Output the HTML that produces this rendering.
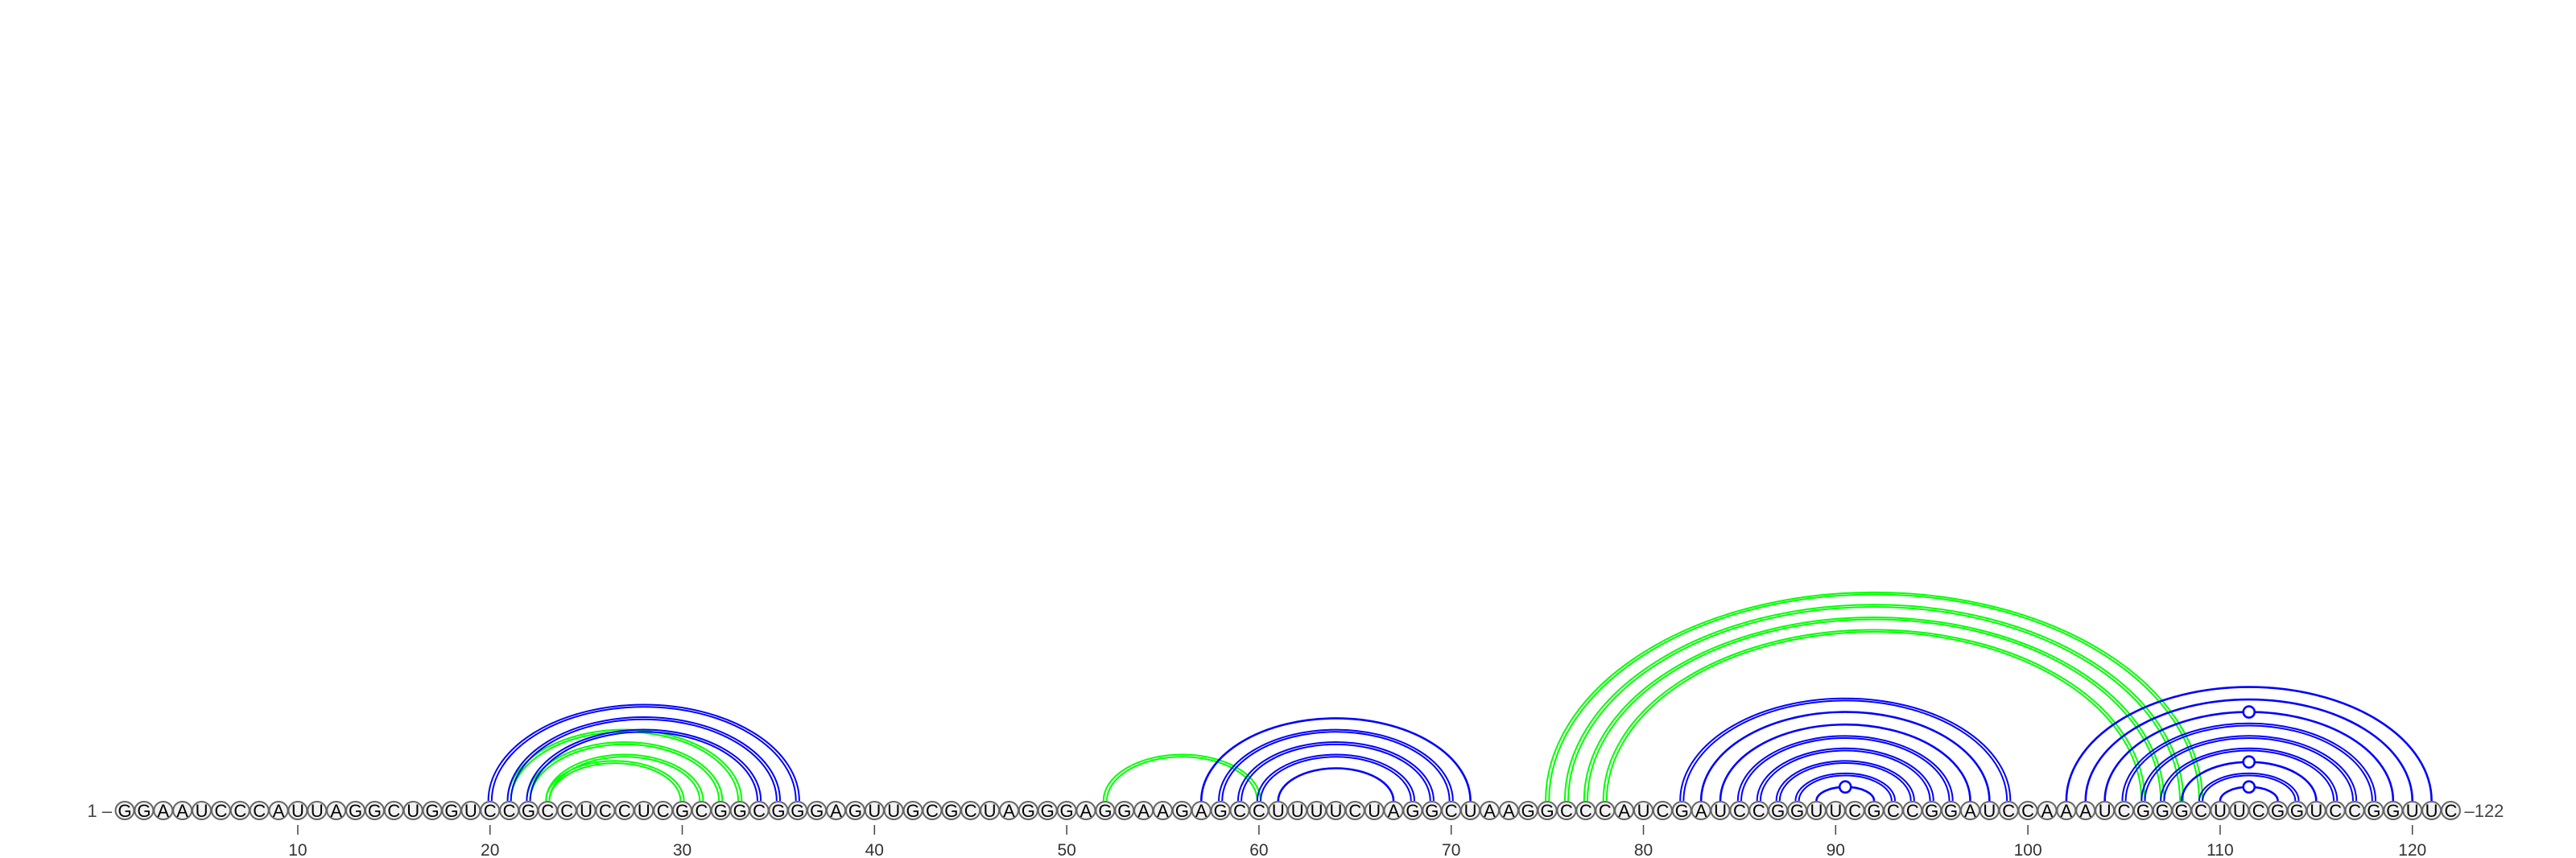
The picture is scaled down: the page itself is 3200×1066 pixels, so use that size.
<!DOCTYPE html>
<html><head><meta charset="utf-8"><style>
html,body{margin:0;padding:0;background:#fff;}
svg{display:block;font-family:"Liberation Sans","DejaVu Sans",sans-serif;}
</style></head><body>
<svg id="chart" width="3200" height="1066" viewBox="0 0 3200 1066" xmlns="http://www.w3.org/2000/svg">
<g id="arcs"></g>
<g id="nts"></g>
<g id="axis"></g>
</svg>
<script>
const sequence = "GGAAUCCCAUUAGGCUGGUCCGCCUCCUCGCGGCGGGAGUUGCGCUAGGGAGGAAGAGCCUUUUCUAGGCUAAGGCCCAUCGAUCCGGUUCGCCGGAUCCAAAUCGGGCUUCGGUCCGGUUC";
// [i, j, double?, marker?]
const bluePairs = [
 [20,36,1,0],[21,35,1,0],[22,34,1,0],
 [57,71,0,0],[58,70,1,0],[59,69,1,0],[60,68,1,0],[61,67,0,0],
 [82,99,1,0],[83,98,0,0],[84,97,0,0],[85,96,1,0],[86,95,1,0],[87,94,1,0],[88,93,1,0],[89,92,0,1],
 [102,121,0,0],[103,120,0,0],[104,119,0,1],[105,118,1,0],[106,117,1,0],[107,116,1,0],[108,115,0,1],[109,114,1,0],[110,113,0,1]
];
const greenPairs = [
 [21,33,1,0],[22,32,1,0],[23,31,1,0],[23,30,1,0],
 [52,60,1,0],
 [75,109,1,0],[76,108,1,0],[77,107,1,0],[78,106,1,0]
];
const tickPositions = [10,20,30,40,50,60,70,80,90,100,110,120];

const NS = "http://www.w3.org/2000/svg";
const X0 = 155, DX = 23.88, CY = 1007, R = 11.5, BASE = 995;
function xPos(i){ return X0 + (i-1)*DX; }
function mk(tag, attrs, parent){
  const el = document.createElementNS(NS, tag);
  for (const k in attrs) el.setAttribute(k, attrs[k]);
  parent.appendChild(el);
  return el;
}
const arcs = document.getElementById('arcs');
function drawArc(p, color, name){
  const x1 = xPos(p[0]), x2 = xPos(p[1]);
  const offs = p[2] ? [-2.1, 2.1] : [0];
  const sw = p[2] ? 2.0 : 2.6;
  offs.forEach(o => {
    const a = x1 - o, b = x2 + o;
    const rx = (b - a)/2, ry = Math.max(4, 0.65*rx - 6);
    const path = mk('path', {d:`M${a},${BASE} A${rx},${ry} 0 0 1 ${b},${BASE}`, fill:'none', stroke:color, 'stroke-width':sw}, arcs);
    
    
  });
  if (p[3]) {
    const rx = (x2 - x1)/2, ry = Math.max(4, 0.65*rx - 6);
    const c = mk('circle', {cx:(x1+x2)/2, cy:BASE-ry, r:7, fill:'#fff', stroke:color, 'stroke-width':2.6}, arcs);
    
    
  }
}
greenPairs.forEach(p => drawArc(p, '#00ff00', 'green-pair-arc'));
bluePairs.forEach(p => drawArc(p, '#0000ff', 'blue-pair-arc'));

const nts = document.getElementById('nts');
for (let i = 1; i <= sequence.length; i++) {
  const g = mk('g', {}, nts);
  
  
  mk('ellipse', {cx:xPos(i), cy:CY, rx:R, ry:11, fill:'#f2f2f2', stroke:'#666', 'stroke-width':2}, g);
  const t = mk('text', {x:xPos(i), y:CY+8, 'text-anchor':'middle', 'font-size':22, fill:'#000'}, g);
  t.textContent = sequence[i-1];
}
const axis = document.getElementById('axis');
const l1 = mk('text', {x:139, y:CY+8, 'text-anchor':'end', 'font-size':22, fill:'#444'}, axis);


l1.textContent = '1 \u2013';
const l2 = mk('text', {x:xPos(sequence.length)+17, y:CY+8, 'text-anchor':'start', 'font-size':22, fill:'#444'}, axis);


l2.textContent = '\u2013' + sequence.length;
tickPositions.forEach(v => {
  const ln = mk('line', {x1:xPos(v), x2:xPos(v), y1:1025, y2:1037, stroke:'#444', 'stroke-width':1.5}, axis);
  
  
  const t = mk('text', {x:xPos(v), y:1063, 'text-anchor':'middle', 'font-size':21, fill:'#333'}, axis);
  
  
  t.textContent = v;
});
</script>
</body></html>
